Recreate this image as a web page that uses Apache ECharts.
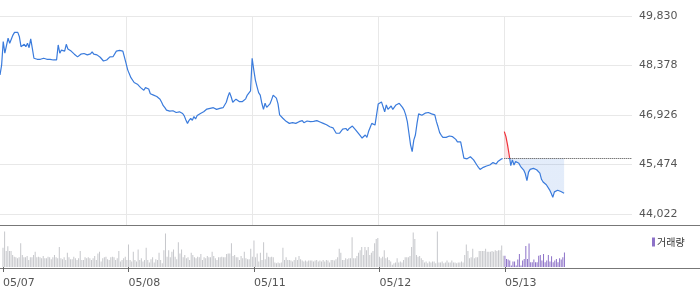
<!DOCTYPE html>
<html><head><meta charset="utf-8">
<script src="https://cdn.jsdelivr.net/npm/echarts@6/dist/echarts.min.js"></script>
<style>html,body{margin:0;padding:0;background:#fff}#c{width:700px;height:289px}</style>
</head><body><div id="c"></div>
<script>
const dayLabels = ['05/07', '05/08', '05/11', '05/12', '05/13'];
const yTicks = [44022, 45474, 46926, 48378, 49830];
const prevClose = 45650;

const price0507 = [
48100,48390,49080,48740,48690,49180,49030,48980,49270,49350,
49320,49350,49220,48930,48980,49000,48930,49030,48900,49160,
48880,48590,48560,48560,48560,48560,48510,48590,48560,48560,
48590,48560,48590,48540,48540,48540,48980,48740,48830,48780,
48800,49000,48860,48860,48800,48760,48710,48670,48630,48670,
48710,48740,48730,48730,48690,48730,48720,48780,48710,48690,
48690,48650,48620,48590,48510,48490,48540,48490,48630,48590,
48640,48690,48800,48820,48820,48800,48800,48760];
const price0508 = [
48440,48250,48200,48020,47970,47880,47880,47830,47790,47730,
47690,47650,47730,47760,47690,47550,47530,47510,47510,47470,
47430,47390,47300,47200,47140,47070,47040,47040,47020,47050,
47040,47000,47000,47020,47020,46970,46900,46780,46680,46770,
46830,46770,46880,46810,46910,46910,46970,46970,47020,47060,
47100,47070,47120,47170,47140,47120,47090,47100,47120,47120,
47140,47170,47300,47460,47590,47460,47300,47340,47390,47370,
47320,47320,47320,47290,47400,47510,47530,47630];
const price0511 = [
48590,48250,47950,47760,47580,47510,47270,47090,47270,47150,
47190,47250,47370,47510,47540,47420,47250,46930,46880,46830,
46780,46740,46700,46680,46720,46700,46730,46680,46630,46730,
46680,46760,46700,46730,46750,46700,46730,46680,46740,46780,
46760,46730,46720,46700,46680,46660,46640,46630,46580,46600,
46550,46470,46390,46340,46390,46440,46510,46470,46530,46470,
46530,46580,46600,46550,46490,46430,46370,46310,46250,46270,
46340,46270,46440,46560,46680,46660,46630,46620];
const price0512 = [
47250,47290,47310,47310,47020,47220,47090,47050,47190,47090,
47050,47220,47170,47270,47220,47150,47070,46930,46730,46390,
46050,45850,46190,46340,46680,46960,46930,46920,46960,46980,
46960,47000,46980,46960,46960,46930,46730,46580,46410,46330,
46270,46240,46270,46230,46310,46330,46290,46240,46210,46140,
46170,46140,45900,45660,45630,45640,45670,45700,45660,45610,
45560,45460,45390,45330,45370,45390,45410,45430,45450,45460,
45490,45530,45510,45490,45560,45610,45630,45650];
const price0513 = [
46440,46290,46050,45760,45440,45610,45460,45560,45570,45510,
45420,45390,45310,45200,45000,45250,45330,45340,45360,45320,
45320,45320,45220,45040,44960,44920,44880,44840,44730,44630,
44510,44670,44720,44720,44700,44680,44660,44630];

const vol0507 = [
60,110,50,64,50,50,37,32,30,27,
30,74,37,30,30,34,22,30,30,37,
47,30,32,30,27,34,27,27,32,30,
24,30,37,30,27,62,27,24,30,22,
44,30,24,24,32,27,22,27,50,22,
22,30,27,30,27,22,27,34,22,42,
47,17,27,30,32,24,22,30,32,30,
22,27,50,17,22,27,32,22];
const vol0508 = [
70,22,17,47,22,17,54,22,27,17,
22,60,22,14,24,30,14,24,22,44,
22,12,52,104,32,52,30,47,54,32,
24,77,42,54,30,37,27,30,22,44,
37,30,27,32,30,40,22,30,27,34,
30,30,47,34,27,22,30,30,32,30,
30,40,42,42,74,34,37,30,30,22,
34,27,47,27,24,24,57,32];
const vol0511 = [
82,30,42,17,44,22,77,24,44,32,
30,32,30,14,12,14,12,14,60,22,
30,22,22,20,17,22,30,22,34,24,
20,17,20,17,20,20,20,17,20,22,
17,20,17,22,17,22,20,14,22,22,
20,24,30,57,44,22,22,27,24,27,
27,92,27,27,34,44,52,62,37,62,
52,62,37,44,50,74,87,90];
const vol0512 = [
32,27,32,52,27,30,22,17,7,12,
14,27,14,17,14,22,30,30,30,34,
62,107,87,37,32,34,27,22,14,17,
12,17,14,17,17,12,110,14,14,17,
12,14,20,14,14,20,14,14,12,14,
14,17,14,37,70,50,27,30,57,27,
30,30,50,50,50,50,57,47,47,47,
50,47,52,50,52,52,67,35];
const vol0513 = [
35,25,23,20,5,17,17,5,23,40,
5,20,25,65,25,73,15,15,23,15,
15,35,37,20,40,15,20,37,17,33,
15,20,25,15,27,23,30,45];

const SLOTS = 78;
const times = [];
for (let k = 0; k < SLOTS; k++) {
  const m = 9 * 60 + k * 5;
  times.push(String(Math.floor(m / 60)).padStart(2, '0') + ':' + String(m % 60).padStart(2, '0'));
}
const categories = [];
dayLabels.forEach(d => times.forEach(t => categories.push(d + ' ' + t)));
categories.push('05/13 15:30', '05/13 15:35');

const pastPrices = [].concat(price0507, price0508, price0511, price0512);
const todayStart = pastPrices.length;
const todayPrices = new Array(todayStart).fill('-').concat(price0513);
const pastVol = [].concat(vol0507, vol0508, vol0511, vol0512);
const GREY = '#c6c7cb', PURPLE = '#8d72c8';
const UP = '#f0313a', DOWN = '#3a7bdc';
const volData = pastVol.map(v => ({ value: v, itemStyle: { color: GREY } }))
  .concat(vol0513.map(v => ({ value: v, itemStyle: { color: PURPLE } })));

const isDayStart = idx => idx % SLOTS === 0 && idx < SLOTS * dayLabels.length;

const chart = echarts.init(document.getElementById('c'), null, { renderer: 'canvas' });
chart.setOption({
  animation: false,
  backgroundColor: '#fff',
  textStyle: { fontFamily: 'DejaVu Sans' },
  legend: {
    data: [{ name: '거래량', itemStyle: { color: PURPLE } }],
    left: 647, top: 232, icon: 'rect', itemWidth: 3, itemHeight: 9, itemGap: 4,
    selectedMode: false,
    textStyle: { fontFamily: 'Noto Sans CJK KR', fontSize: 10, color: '#333', padding: [0, 0, 0, -3] }
  },
  grid: [
    { left: 0, top: 16, width: 632, height: 209 },
    { left: 0, top: 228, width: 632, height: 40 }
  ],
  xAxis: [
    { type: 'category', gridIndex: 0, data: categories, boundaryGap: false,
      axisLine: { show: false }, axisTick: { show: false }, axisLabel: { show: false },
      splitLine: { show: true, interval: (i) => isDayStart(i) && i > 0, lineStyle: { color: '#e8e8e8', width: 1 } } },
    { type: 'category', gridIndex: 1, data: categories, boundaryGap: false,
      axisLine: { show: false },
      axisTick: { show: true, interval: (i) => isDayStart(i), length: 5, lineStyle: { color: '#666' } },
      axisLabel: { show: true, interval: (i) => isDayStart(i), formatter: v => v.slice(0, 5),
        align: 'left', margin: 11, fontSize: 11, color: '#555', fontFamily: 'DejaVu Sans' },
      splitLine: { show: false } }
  ],
  yAxis: [
    { type: 'value', gridIndex: 0, position: 'right', min: 43699, max: 49830,
      axisLine: { show: false },
      axisTick: { show: false, customValues: yTicks },
      axisLabel: { customValues: yTicks, margin: 7, fontSize: 11, color: '#555', fontFamily: 'DejaVu Sans',
        formatter: v => Number(v).toLocaleString('en-US') },
      splitLine: { show: true, lineStyle: { color: '#e8e8e8', width: 1 } } },
    { type: 'value', gridIndex: 1, min: 0, max: 121, show: false, splitLine: { show: false } }
  ],
  series: [
    { type: 'line', name: 'price', xAxisIndex: 0, yAxisIndex: 0, data: pastPrices,
      showSymbol: false, symbol: 'none', lineStyle: { color: DOWN, width: 1.2 }, z: 3 },
    { type: 'line', name: 'today', xAxisIndex: 0, yAxisIndex: 0, data: todayPrices,
      showSymbol: false, symbol: 'none', lineStyle: { width: 1.2, color: DOWN },
      areaStyle: { origin: prevClose, opacity: 1, color: 'rgba(58,123,220,0.14)' }, z: 3,
      markLine: { silent: true, symbol: 'none', label: { show: false },
        lineStyle: { type: 'dotted', color: '#444', width: 1 },
        data: [[{ coord: [categories[todayStart], prevClose] }, { coord: [categories[categories.length - 1], prevClose] }]] } },
    { type: 'bar', name: '거래량', xAxisIndex: 1, yAxisIndex: 1, data: volData, barWidth: 1 }
  ],
  graphic: [
    { type: 'line', shape: { x1: 0, y1: 225.5, x2: 700, y2: 225.5 }, style: { stroke: '#777', lineWidth: 1 }, silent: true },
    { type: 'line', shape: { x1: 0, y1: 268.5, x2: 700, y2: 268.5 }, style: { stroke: '#777', lineWidth: 1 }, silent: true }
  ]
});

// split colour at the previous close: red above, blue below
const yp = chart.convertToPixel({ yAxisIndex: 0 }, prevClose);
const H = 289, f = yp / H;
const grad = (a, b) => ({ type: 'linear', x: 0, y: 0, x2: 0, y2: H, global: true,
  colorStops: [{ offset: 0, color: a }, { offset: f, color: a }, { offset: f, color: b }, { offset: 1, color: b }] });
chart.setOption({ series: [{}, {
  lineStyle: { color: grad(UP, DOWN) },
  areaStyle: { color: grad('rgba(240,49,58,0.14)', 'rgba(58,123,220,0.14)') }
}] });
</script></body></html>
